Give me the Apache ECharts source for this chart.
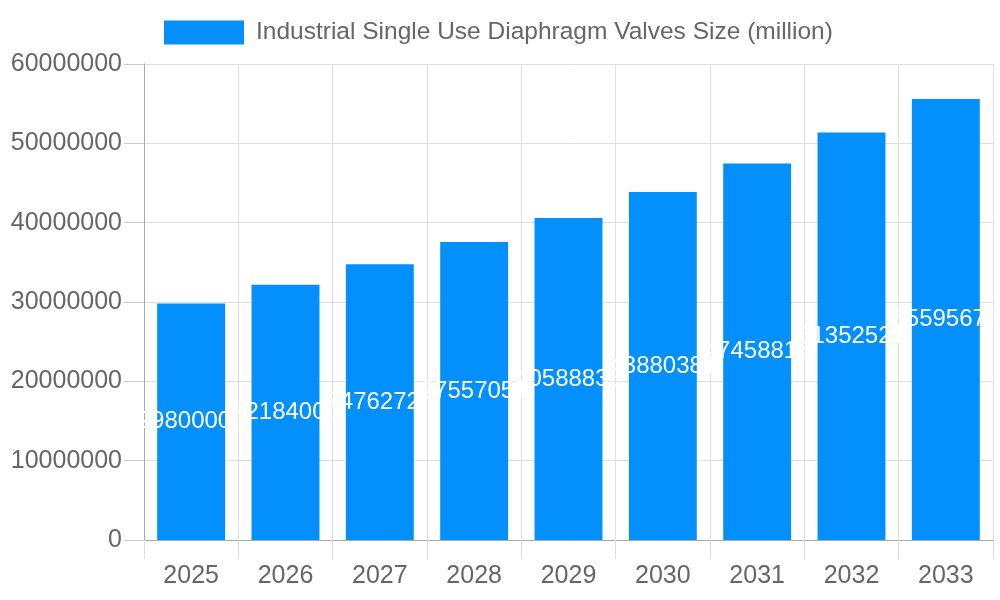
<!DOCTYPE html>
<html><head><meta charset="utf-8">
<script src="https://cdn.jsdelivr.net/npm/echarts@6/dist/echarts.min.js"></script>
<style>html,body{margin:0;padding:0;background:#fff}#c{width:1000px;height:600px}</style>
</head><body><div id="c"></div>
<script>
const categories = ['2025','2026','2027','2028','2029','2030','2031','2032','2033'];
const sizeValues = [29800000, 32184000, 34762720, 37557051, 40588833, 43880381, 47458815, 51352521, 55595673];
const seriesName = 'Industrial Single Use Diaphragm Valves Size (million)';
const chart = echarts.init(document.getElementById('c'));
chart.setOption({
  animation:false,
  textStyle:{fontFamily:'Liberation Sans, Arial, sans-serif'},
  legend:{top:15,left:159,itemWidth:80,itemHeight:24,itemGap:12,icon:'rect',
    textStyle:{color:'#666',fontSize:24.5,padding:[0,0,0,7]},data:[seriesName]},
  grid:{left:144,right:7,top:64,bottom:60,containLabel:false},
  xAxis:{type:'category',data:categories,
    axisLine:{lineStyle:{color:'#aaa'}},
    axisTick:{show:true,length:19,lineStyle:{color:'#ddd'},alignWithLabel:false},
    axisLabel:{color:'#666',fontSize:25,margin:24},
    splitLine:{show:true,lineStyle:{color:'#e0e0e0'}}},
  yAxis:{type:'value',min:0,max:60000000,interval:10000000,
    axisLine:{show:true,lineStyle:{color:'#aaa'}},
    axisTick:{show:true,length:20,lineStyle:{color:'#ccc'}},
    axisLabel:{color:'#666',fontSize:25,margin:22,formatter:v=>String(v)},
    splitLine:{lineStyle:{color:'#e0e0e0'}}},
  series:[{name:seriesName,type:'bar',data:sizeValues,barWidth:'72%',
    itemStyle:{color:'#0390fc'},
    label:{show:true,position:'inside',color:'#fff',fontSize:24}}]
});
</script></body></html>
